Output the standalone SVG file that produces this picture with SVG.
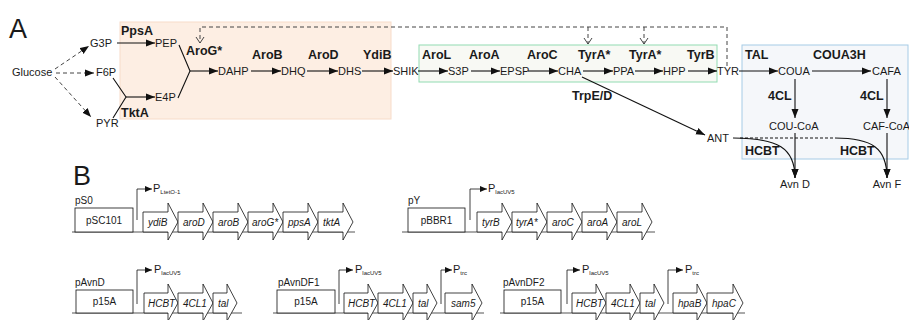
<svg xmlns="http://www.w3.org/2000/svg" width="909" height="320" viewBox="0 0 909 320">
<defs>
<marker id="ah" markerUnits="userSpaceOnUse" markerWidth="10" markerHeight="8" refX="9" refY="4" orient="auto"><path d="M0,0.5 L9,4 L0,7.5 Z" fill="#111"/></marker>
<marker id="oh" markerUnits="userSpaceOnUse" markerWidth="9" markerHeight="10" refX="6" refY="4.5" orient="auto"><path d="M0,0.5 L6,4.5 L0,8.5" fill="none" stroke="#444" stroke-width="1"/></marker>
<marker id="ph" markerUnits="userSpaceOnUse" markerWidth="8" markerHeight="7" refX="7" refY="3" orient="auto"><path d="M0,0 L7,3 L0,6 Z" fill="#111"/></marker>
</defs>
<style>
text{font-family:"Liberation Sans",Arial,sans-serif;fill:#1a1a1a}
.m{font-size:11px}
.e{font-size:12.5px;font-weight:bold}
.big{font-size:27px}
.pl{font-size:10px}
.g{font-size:10px;font-style:italic}
.p{font-size:11px}
.sub{font-size:6px}
.ln{stroke:#111;stroke-width:1.1;fill:none}
.ar{stroke:#111;stroke-width:1.1;fill:none;marker-end:url(#ah)}
.da{stroke:#444;stroke-width:1;fill:none;stroke-dasharray:4,3}
.gene{fill:#fff;stroke:#111;stroke-width:0.8}
.box{fill:#fff;stroke:#111;stroke-width:0.8}
.bl{stroke:#555;stroke-width:1}
.pr{stroke:#111;stroke-width:0.8;fill:none;marker-end:url(#ph)}
</style>

<rect x="120" y="22" width="271" height="97" fill="#fdeee3" stroke="#f7dcc9" stroke-width="1"/>
<rect x="419" y="45" width="298" height="37" fill="#f8f9f4" stroke="#92dbb2" stroke-width="1"/>
<rect x="742" y="45" width="166" height="114" fill="#f5f7fa" stroke="#a6cbe6" stroke-width="1"/>

<text class="big" x="9" y="38">A</text>
<text class="big" x="73" y="185">B</text>

<g id="connectors">
<path class="da" d="M55,69 L89,46" marker-end="url(#ah)"/>
<path class="da" d="M56,73 L94,73" marker-end="url(#ah)"/>
<path class="da" d="M55,77 L91,117" marker-end="url(#ah)"/>
<path class="ar" d="M117,43 L155,43"/>
<path class="ln" d="M113,78 L126,97 L113,118"/>
<path class="ar" d="M126,97 L155,97"/>
<path class="ln" d="M179,45 L190,71 L178,98"/>
<path class="ar" d="M190,71 L218,71"/>
<path class="ar" d="M251,71 L281,71"/>
<path class="ar" d="M307,71 L338,71"/>
<path class="ar" d="M362,71 L393,71"/>
<path class="ar" d="M418,71 L448,71"/>
<path class="ar" d="M471,71 L500,71"/>
<path class="ar" d="M528,71 L558,71"/>
<path class="ar" d="M583,71 L613,71"/>
<path class="ar" d="M635,71 L663,71"/>
<path class="ar" d="M688,71 L717,71"/>
<path class="ar" d="M739,71 L778,71"/>
<path class="ar" d="M812,71 L871,71"/>
<path class="ar" d="M795,79 L795,118"/>
<path class="ar" d="M887,79 L887,118"/>
<path class="ar" d="M582,77 L705,135"/>
<path class="ar" d="M795,133 L795,178"/>
<path class="ar" d="M887,133 L887,178"/>
<path class="ar" d="M733,138 C778,138 795,148 795,178"/>
<path class="ar" d="M835,138 C872,138 887,148 887,178"/>
<path d="M740,138 L835,138" stroke="#111" stroke-width="1" stroke-dasharray="3,2"/>
<path class="da" d="M727,66 V27 H200 V43" marker-end="url(#oh)"/>
<path class="da" d="M588,27 V44" marker-end="url(#oh)"/>
<path class="da" d="M644,27 V44" marker-end="url(#oh)"/>
</g>

<g id="metabolites">
<g id="n-glucose"><text class="m" x="12" y="76">Glucose</text></g>
<g id="n-g3p"><text class="m" x="90" y="47">G3P</text></g>
<g id="n-f6p"><text class="m" x="96" y="76">F6P</text></g>
<g id="n-pyr"><text class="m" x="96" y="127">PYR</text></g>
<g id="n-pep"><text class="m" x="155" y="47">PEP</text></g>
<g id="n-e4p"><text class="m" x="155" y="101">E4P</text></g>
<g id="n-dahp"><text class="m" x="218" y="75">DAHP</text></g>
<g id="n-dhq"><text class="m" x="281" y="75">DHQ</text></g>
<g id="n-dhs"><text class="m" x="338" y="75">DHS</text></g>
<g id="n-shik"><text class="m" x="393" y="75">SHIK</text></g>
<g id="n-s3p"><text class="m" x="448" y="75">S3P</text></g>
<g id="n-epsp"><text class="m" x="500" y="75">EPSP</text></g>
<g id="n-cha"><text class="m" x="558" y="75">CHA</text></g>
<g id="n-ppa"><text class="m" x="613" y="75">PPA</text></g>
<g id="n-hpp"><text class="m" x="663" y="75">HPP</text></g>
<g id="n-tyr"><text class="m" x="717" y="75">TYR</text></g>
<g id="n-coua"><text class="m" x="778" y="75">COUA</text></g>
<g id="n-cafa"><text class="m" x="872" y="75">CAFA</text></g>
<g id="n-coucoa"><text class="m" x="769" y="130">COU-CoA</text></g>
<g id="n-cafcoa"><text class="m" x="863" y="130">CAF-CoA</text></g>
<g id="n-ant"><text class="m" x="707" y="142">ANT</text></g>
<g id="n-avnd"><text class="m" x="795" y="188" text-anchor="middle">Avn D</text></g>
<g id="n-avnf"><text class="m" x="887" y="188" text-anchor="middle">Avn F</text></g>
</g>

<g id="enzymes">
<text class="e" x="121" y="35">PpsA</text>
<text class="e" x="121" y="117">TktA</text>
<text class="e" x="186" y="55">AroG*</text>
<text class="e" x="252" y="59">AroB</text>
<text class="e" x="308" y="59">AroD</text>
<text class="e" x="363" y="59">YdiB</text>
<text class="e" x="422" y="59">AroL</text>
<text class="e" x="469" y="59">AroA</text>
<text class="e" x="527" y="59">AroC</text>
<text class="e" x="578" y="59">TyrA*</text>
<text class="e" x="629" y="59">TyrA*</text>
<text class="e" x="687" y="59">TyrB</text>
<text class="e" x="745" y="59">TAL</text>
<text class="e" x="813" y="59">COUA3H</text>
<text class="e" x="572" y="100">TrpE/D</text>
<text class="e" x="768" y="100">4CL</text>
<text class="e" x="860" y="100">4CL</text>
<text class="e" x="745" y="155">HCBT</text>
<text class="e" x="840" y="155">HCBT</text>
</g>

<!-- Panel B -->
<g id="pS0">
<line class="bl" x1="72" y1="232" x2="355" y2="232"/>
<text class="pl" x="75" y="204">pS0</text>
<rect class="box" x="75" y="208" width="58" height="24"/>
<text class="pl" x="104" y="224" text-anchor="middle">pSC101</text>
<path class="pr" d="M137,220 V189 H152"/>
<text class="p" x="153" y="192">P<tspan class="sub" dy="2">LtetO-1</tspan></text>
<path class="gene" d="M143,212 H168 V203 L178,222 L168,240 V232 H143 Z"/><text class="g" x="148" y="226">ydiB</text>
<path class="gene" d="M178,212 H203 V203 L213,222 L203,240 V232 H178 Z"/><text class="g" x="183" y="226">aroD</text>
<path class="gene" d="M213,212 H238 V203 L248,222 L238,240 V232 H213 Z"/><text class="g" x="218" y="226">aroB</text>
<path class="gene" d="M248,212 H273 V203 L283,222 L273,240 V232 H248 Z"/><text class="g" x="252" y="226">aroG*</text>
<path class="gene" d="M283,212 H308 V203 L318,222 L308,240 V232 H283 Z"/><text class="g" x="288" y="226">ppsA</text>
<path class="gene" d="M318,212 H343 V203 L353,222 L343,240 V232 H318 Z"/><text class="g" x="323" y="226">tktA</text>
</g>

<g id="pY">
<line class="bl" x1="402" y1="232" x2="655" y2="232"/>
<text class="pl" x="408" y="204">pY</text>
<rect class="box" x="408" y="208" width="57" height="24"/>
<text class="pl" x="436.5" y="224" text-anchor="middle">pBBR1</text>
<path class="pr" d="M470,220 V189 H487"/>
<text class="p" x="488" y="192">P<tspan class="sub" dy="2">lacUV5</tspan></text>
<path class="gene" d="M477,212 H502 V203 L512,222 L502,240 V232 H477 Z"/><text class="g" x="482" y="226">tyrB</text>
<path class="gene" d="M512,212 H537 V203 L547,222 L537,240 V232 H512 Z"/><text class="g" x="516" y="226">tyrA*</text>
<path class="gene" d="M547,212 H572 V203 L582,222 L572,240 V232 H547 Z"/><text class="g" x="552" y="226">aroC</text>
<path class="gene" d="M582,212 H607 V203 L617,222 L607,240 V232 H582 Z"/><text class="g" x="587" y="226">aroA</text>
<path class="gene" d="M617,212 H642 V203 L652,222 L642,240 V232 H617 Z"/><text class="g" x="622" y="226">aroL</text>
</g>

<g id="pAvnD">
<line class="bl" x1="72" y1="313" x2="242" y2="313"/>
<text class="pl" x="75" y="286">pAvnD</text>
<rect class="box" x="76" y="290" width="57" height="23"/>
<text class="pl" x="104.5" y="305" text-anchor="middle">p15A</text>
<path class="pr" d="M137,304 V270 H152"/>
<text class="p" x="154" y="273">P<tspan class="sub" dy="2">lacUV5</tspan></text>
<path class="gene" d="M144,293 H168 V284 L178,303 L168,321 V313 H144 Z"/><text class="g" x="148" y="307">HCBT</text>
<path class="gene" d="M178,293 H203 V284 L213,303 L203,321 V313 H178 Z"/><text class="g" x="183" y="307">4CL1</text>
<path class="gene" d="M213,293 H227 V284 L237,303 L227,321 V313 H213 Z"/><text class="g" x="218" y="307">tal</text>
</g>

<g id="pAvnDF1">
<line class="bl" x1="273" y1="313" x2="484" y2="313"/>
<text class="pl" x="278" y="286">pAvnDF1</text>
<rect class="box" x="277" y="290" width="58" height="23"/>
<text class="pl" x="306" y="305" text-anchor="middle">p15A</text>
<path class="pr" d="M339,304 V270 H353"/>
<text class="p" x="355" y="273">P<tspan class="sub" dy="2">lacUV5</tspan></text>
<path class="gene" d="M344,293 H368 V284 L378,303 L368,321 V313 H344 Z"/><text class="g" x="348" y="307">HCBT</text>
<path class="gene" d="M378,293 H403 V284 L413,303 L403,321 V313 H378 Z"/><text class="g" x="383" y="307">4CL1</text>
<path class="gene" d="M413,293 H427 V284 L437,303 L427,321 V313 H413 Z"/><text class="g" x="418" y="307">tal</text>
<path class="pr" d="M441,304 V270 H452"/>
<text class="p" x="453" y="273">P<tspan class="sub" dy="2">trc</tspan></text>
<path class="gene" d="M445,293 H472 V284 L482,303 L472,321 V313 H445 Z"/><text class="g" x="451" y="307">sam5</text>
</g>

<g id="pAvnDF2">
<line class="bl" x1="500" y1="313" x2="745" y2="313"/>
<text class="pl" x="503" y="286">pAvnDF2</text>
<rect class="box" x="504" y="290" width="57" height="23"/>
<text class="pl" x="532.5" y="305" text-anchor="middle">p15A</text>
<path class="pr" d="M567,304 V270 H580"/>
<text class="p" x="582" y="273">P<tspan class="sub" dy="2">lacUV5</tspan></text>
<path class="gene" d="M572,293 H596 V284 L606,303 L596,321 V313 H572 Z"/><text class="g" x="576" y="307">HCBT</text>
<path class="gene" d="M606,293 H630 V284 L640,303 L630,321 V313 H606 Z"/><text class="g" x="611" y="307">4CL1</text>
<path class="gene" d="M640,293 H654 V284 L664,303 L654,321 V313 H640 Z"/><text class="g" x="645" y="307">tal</text>
<path class="pr" d="M668,304 V270 H683"/>
<text class="p" x="685" y="273">P<tspan class="sub" dy="2">trc</tspan></text>
<path class="gene" d="M673,293 H697 V284 L707,303 L697,321 V313 H673 Z"/><text class="g" x="678" y="307">hpaB</text>
<path class="gene" d="M707,293 H733 V284 L743,303 L733,321 V313 H707 Z"/><text class="g" x="712" y="307">hpaC</text>
</g>
</svg>
